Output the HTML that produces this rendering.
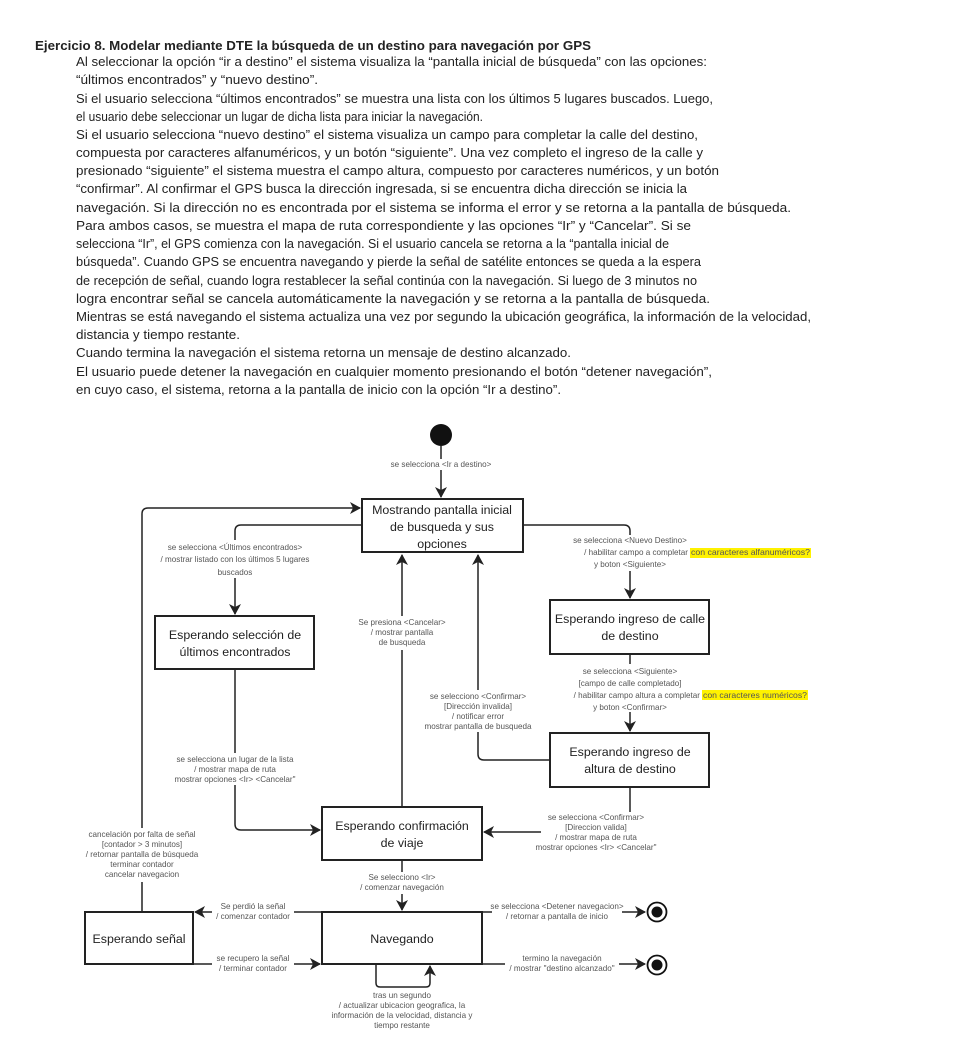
<!DOCTYPE html>
<html><head><meta charset="utf-8"><style>
html,body{margin:0;padding:0;background:#fff;}
svg{display:block;}
.t{font-family:"Liberation Sans","DejaVu Sans",sans-serif;font-size:12.6px;fill:#222;}
.b{font-family:"Liberation Sans","DejaVu Sans",sans-serif;font-size:12.4px;fill:#222;text-anchor:middle;}
.l{font-family:"Liberation Sans","DejaVu Sans",sans-serif;font-size:8.1px;fill:#555;text-anchor:middle;}
.ls{font-family:"Liberation Sans","DejaVu Sans",sans-serif;font-size:8.1px;fill:#555;text-anchor:start;}
.le{font-family:"Liberation Sans","DejaVu Sans",sans-serif;font-size:8.1px;fill:#555;text-anchor:end;}
.box{fill:#fff;stroke:#222;stroke-width:2;}
.ln{fill:none;stroke:#222;stroke-width:1.5;}
</style></head><body>
<svg width="953" height="1049" viewBox="0 0 953 1049" xmlns="http://www.w3.org/2000/svg">
<defs><marker id="a" markerWidth="12" markerHeight="12" refX="10" refY="6" orient="auto" markerUnits="userSpaceOnUse"><path d="M0,0 L11,6 L0,12 L3,6 Z" fill="#222"/></marker></defs>
<text class="t" x="35" y="50" font-weight="bold" textLength="556" lengthAdjust="spacingAndGlyphs">Ejercicio 8. Modelar mediante DTE la búsqueda de un destino para navegación por GPS</text>
<g class="t">
<text x="76" y="66" textLength="631" lengthAdjust="spacingAndGlyphs">Al seleccionar la opción “ir a destino” el sistema visualiza la “pantalla inicial de búsqueda” con las opciones:</text>
<text x="76" y="84" textLength="242" lengthAdjust="spacingAndGlyphs">“últimos encontrados” y “nuevo destino”.</text>
<text x="76" y="103" textLength="637" lengthAdjust="spacingAndGlyphs">Si el usuario selecciona “últimos encontrados” se muestra una lista con los últimos 5 lugares buscados. Luego,</text>
<text x="76" y="121" textLength="407" lengthAdjust="spacingAndGlyphs">el usuario debe seleccionar un lugar de dicha lista para iniciar la navegación.</text>
<text x="76" y="139" textLength="622" lengthAdjust="spacingAndGlyphs">Si el usuario selecciona “nuevo destino” el sistema visualiza un campo para completar la calle del destino,</text>
<text x="76" y="157" textLength="627" lengthAdjust="spacingAndGlyphs">compuesta por caracteres alfanuméricos, y un botón “siguiente”. Una vez completo el ingreso de la calle y</text>
<text x="76" y="175" textLength="643" lengthAdjust="spacingAndGlyphs">presionado “siguiente” el sistema muestra el campo altura, compuesto por caracteres numéricos, y un botón</text>
<text x="76" y="193" textLength="611" lengthAdjust="spacingAndGlyphs">“confirmar”. Al confirmar el GPS busca la dirección ingresada, si se encuentra dicha dirección se inicia la</text>
<text x="76" y="212" textLength="715" lengthAdjust="spacingAndGlyphs">navegación. Si la dirección no es encontrada por el sistema se informa el error y se retorna a la pantalla de búsqueda.</text>
<text x="76" y="230" textLength="615" lengthAdjust="spacingAndGlyphs">Para ambos casos, se muestra el mapa de ruta correspondiente y las opciones “Ir” y “Cancelar”. Si se</text>
<text x="76" y="248" textLength="593" lengthAdjust="spacingAndGlyphs">selecciona “Ir”, el GPS comienza con la navegación. Si el usuario cancela se retorna a la “pantalla inicial de</text>
<text x="76" y="266" textLength="625" lengthAdjust="spacingAndGlyphs">búsqueda”. Cuando GPS se encuentra navegando y pierde la señal de satélite entonces se queda a la espera</text>
<text x="76" y="285" textLength="621" lengthAdjust="spacingAndGlyphs">de recepción de señal, cuando logra restablecer la señal continúa con la navegación. Si luego de 3 minutos no</text>
<text x="76" y="303" textLength="634" lengthAdjust="spacingAndGlyphs">logra encontrar señal se cancela automáticamente la navegación y se retorna a la pantalla de búsqueda.</text>
<text x="76" y="321" textLength="735" lengthAdjust="spacingAndGlyphs">Mientras se está navegando el sistema actualiza una vez por segundo la ubicación geográfica, la información de la velocidad,</text>
<text x="76" y="339" textLength="164" lengthAdjust="spacingAndGlyphs">distancia y tiempo restante.</text>
<text x="76" y="357" textLength="495" lengthAdjust="spacingAndGlyphs">Cuando termina la navegación el sistema retorna un mensaje de destino alcanzado.</text>
<text x="76" y="376" textLength="636" lengthAdjust="spacingAndGlyphs">El usuario puede detener la navegación en cualquier momento presionando el botón “detener navegación”,</text>
<text x="76" y="394" textLength="485" lengthAdjust="spacingAndGlyphs">en cuyo caso, el sistema, retorna a la pantalla de inicio con la opción “Ir a destino”.</text>
</g>

<circle cx="441" cy="435" r="11" fill="#111"/>
<line class="ln" x1="441" y1="446" x2="441" y2="497" marker-end="url(#a)"/>
<rect x="382" y="459" width="118" height="11" fill="#fff"/>
<text class="l" x="441" y="467">se selecciona &lt;Ir a destino&gt;</text>

<path class="ln" d="M142,911 L142,514 Q142,508 148,508 L360,508" marker-end="url(#a)"/>
<path class="ln" d="M362,525 L241,525 Q235,525 235,531 L235,614" marker-end="url(#a)"/>
<path class="ln" d="M523,525 L624,525 Q630,525 630,531 L630,598" marker-end="url(#a)"/>
<path class="ln" d="M235,669 L235,824 Q235,830 241,830 L320,830" marker-end="url(#a)"/>
<path class="ln" d="M402,807 L402,555" marker-end="url(#a)"/>
<path class="ln" d="M550,760 L484,760 Q478,760 478,754 L478,555" marker-end="url(#a)"/>
<path class="ln" d="M630,654 L630,731" marker-end="url(#a)"/>
<path class="ln" d="M630,787 L630,812"/>
<path class="ln" d="M541,832 L484,832" marker-end="url(#a)"/>
<path class="ln" d="M402,860 L402,910" marker-end="url(#a)"/>
<path class="ln" d="M322,912 L195,912" marker-end="url(#a)"/>
<path class="ln" d="M193,964 L320,964" marker-end="url(#a)"/>
<path class="ln" d="M482,912 L645,912" marker-end="url(#a)"/>
<path class="ln" d="M482,964 L645,964" marker-end="url(#a)"/>
<path class="ln" d="M376,964 L376,983 Q376,987 380,987 L426,987 Q430,987 430,983 L430,966" marker-end="url(#a)"/>

<rect x="148" y="540" width="174" height="38" fill="#fff"/>
<text class="l" x="235" y="550">se selecciona &lt;Últimos encontrados&gt;</text>
<text class="l" x="235" y="562">/ mostrar listado con los últimos 5 lugares</text>
<text class="l" x="235" y="575">buscados</text>

<rect x="355" y="616" width="94" height="34" fill="#fff"/>
<text class="l" x="402" y="625">Se presiona &lt;Cancelar&gt;</text>
<text class="l" x="402" y="635">/ mostrar pantalla</text>
<text class="l" x="402" y="645">de busqueda</text>

<rect x="422" y="690" width="112" height="42" fill="#fff"/>
<text class="l" x="478" y="699">se selecciono &lt;Confirmar&gt;</text>
<text class="l" x="478" y="709">[Dirección invalida]</text>
<text class="l" x="478" y="719">/ notificar error</text>
<text class="l" x="478" y="729">mostrar pantalla de busqueda</text>

<rect x="170" y="753" width="130" height="32" fill="#fff"/>
<text class="l" x="235" y="762">se selecciona un lugar de la lista</text>
<text class="l" x="235" y="772">/ mostrar mapa de ruta</text>
<text class="l" x="235" y="782">mostrar opciones &lt;Ir&gt; &lt;Cancelar"</text>

<rect x="563" y="535" width="250" height="36" fill="#fff"/>
<rect x="690" y="548" width="121" height="10" fill="#fff200"/>
<text class="l" x="630" y="543">se selecciona &lt;Nuevo Destino&gt;</text>
<text class="le" x="688" y="555">/ habilitar campo a completar</text>
<text class="ls" x="691" y="555" textLength="119" lengthAdjust="spacingAndGlyphs">con caracteres alfanuméricos?</text>
<text class="l" x="630" y="567">y boton &lt;Siguiente&gt;</text>

<rect x="555" y="664" width="255" height="48" fill="#fff"/>
<rect x="702" y="690" width="106" height="10" fill="#fff200"/>
<text class="l" x="630" y="674">se selecciona &lt;Siguiente&gt;</text>
<text class="l" x="630" y="686">[campo de calle completado]</text>
<text class="le" x="700" y="698">/ habilitar campo altura a completar</text>
<text class="ls" x="703" y="698" textLength="104" lengthAdjust="spacingAndGlyphs">con caracteres numéricos?</text>
<text class="l" x="630" y="710">y boton &lt;Confirmar&gt;</text>

<text class="l" x="596" y="820">se selecciona &lt;Confirmar&gt;</text>
<text class="l" x="596" y="830">[Direccion valida]</text>
<text class="l" x="596" y="840">/ mostrar mapa de ruta</text>
<text class="l" x="596" y="850">mostrar opciones &lt;Ir&gt; &lt;Cancelar"</text>

<rect x="80" y="828" width="126" height="54" fill="#fff"/>
<text class="l" x="142" y="837">cancelación por falta de señal</text>
<text class="l" x="142" y="847">[contador &gt; 3 minutos]</text>
<text class="l" x="142" y="857">/ retornar pantalla de búsqueda</text>
<text class="l" x="142" y="867">terminar contador</text>
<text class="l" x="142" y="877">cancelar navegacion</text>

<rect x="356" y="872" width="92" height="22" fill="#fff"/>
<text class="l" x="402" y="880">Se selecciono &lt;Ir&gt;</text>
<text class="l" x="402" y="890">/ comenzar navegación</text>

<rect x="212" y="902" width="82" height="20" fill="#fff"/>
<text class="l" x="253" y="909">Se perdió la señal</text>
<text class="l" x="253" y="919">/ comenzar contador</text>

<rect x="212" y="954" width="82" height="20" fill="#fff"/>
<text class="l" x="253" y="961">se recupero la señal</text>
<text class="l" x="253" y="971">/ terminar contador</text>

<rect x="492" y="902" width="130" height="20" fill="#fff"/>
<text class="l" x="557" y="909">se selecciona &lt;Detener navegacion&gt;</text>
<text class="l" x="557" y="919">/ retornar a pantalla de inicio</text>

<rect x="505" y="954" width="114" height="20" fill="#fff"/>
<text class="l" x="562" y="961">termino la navegación</text>
<text class="l" x="562" y="971">/ mostrar "destino alcanzado"</text>

<text class="l" x="402" y="998">tras un segundo</text>
<text class="l" x="402" y="1008">/ actualizar ubicacion geografica, la</text>
<text class="l" x="402" y="1018">información de la velocidad, distancia y</text>
<text class="l" x="402" y="1028">tiempo restante</text>

<circle cx="657" cy="912" r="9.5" fill="#fff" stroke="#111" stroke-width="1.8"/>
<circle cx="657" cy="912" r="5.5" fill="#111"/>
<circle cx="657" cy="965" r="9.5" fill="#fff" stroke="#111" stroke-width="1.8"/>
<circle cx="657" cy="965" r="5.5" fill="#111"/>

<rect class="box" x="362" y="499" width="161" height="53"/>
<text class="b" x="442" y="514">Mostrando pantalla inicial</text>
<text class="b" x="442" y="531">de busqueda y sus</text>
<text class="b" x="442" y="548">opciones</text>

<rect class="box" x="155" y="616" width="159" height="53"/>
<text class="b" x="235" y="639">Esperando selección de</text>
<text class="b" x="235" y="656">últimos encontrados</text>

<rect class="box" x="550" y="600" width="159" height="54"/>
<text class="b" x="630" y="623">Esperando ingreso de calle</text>
<text class="b" x="630" y="640">de destino</text>

<rect class="box" x="550" y="733" width="159" height="54"/>
<text class="b" x="630" y="756">Esperando ingreso de</text>
<text class="b" x="630" y="773">altura de destino</text>

<rect class="box" x="322" y="807" width="160" height="53"/>
<text class="b" x="402" y="830">Esperando confirmación</text>
<text class="b" x="402" y="847">de viaje</text>

<rect class="box" x="85" y="912" width="108" height="52"/>
<text class="b" x="139" y="943">Esperando señal</text>

<rect class="box" x="322" y="912" width="160" height="52"/>
<text class="b" x="402" y="943">Navegando</text>
</svg>
</body></html>
